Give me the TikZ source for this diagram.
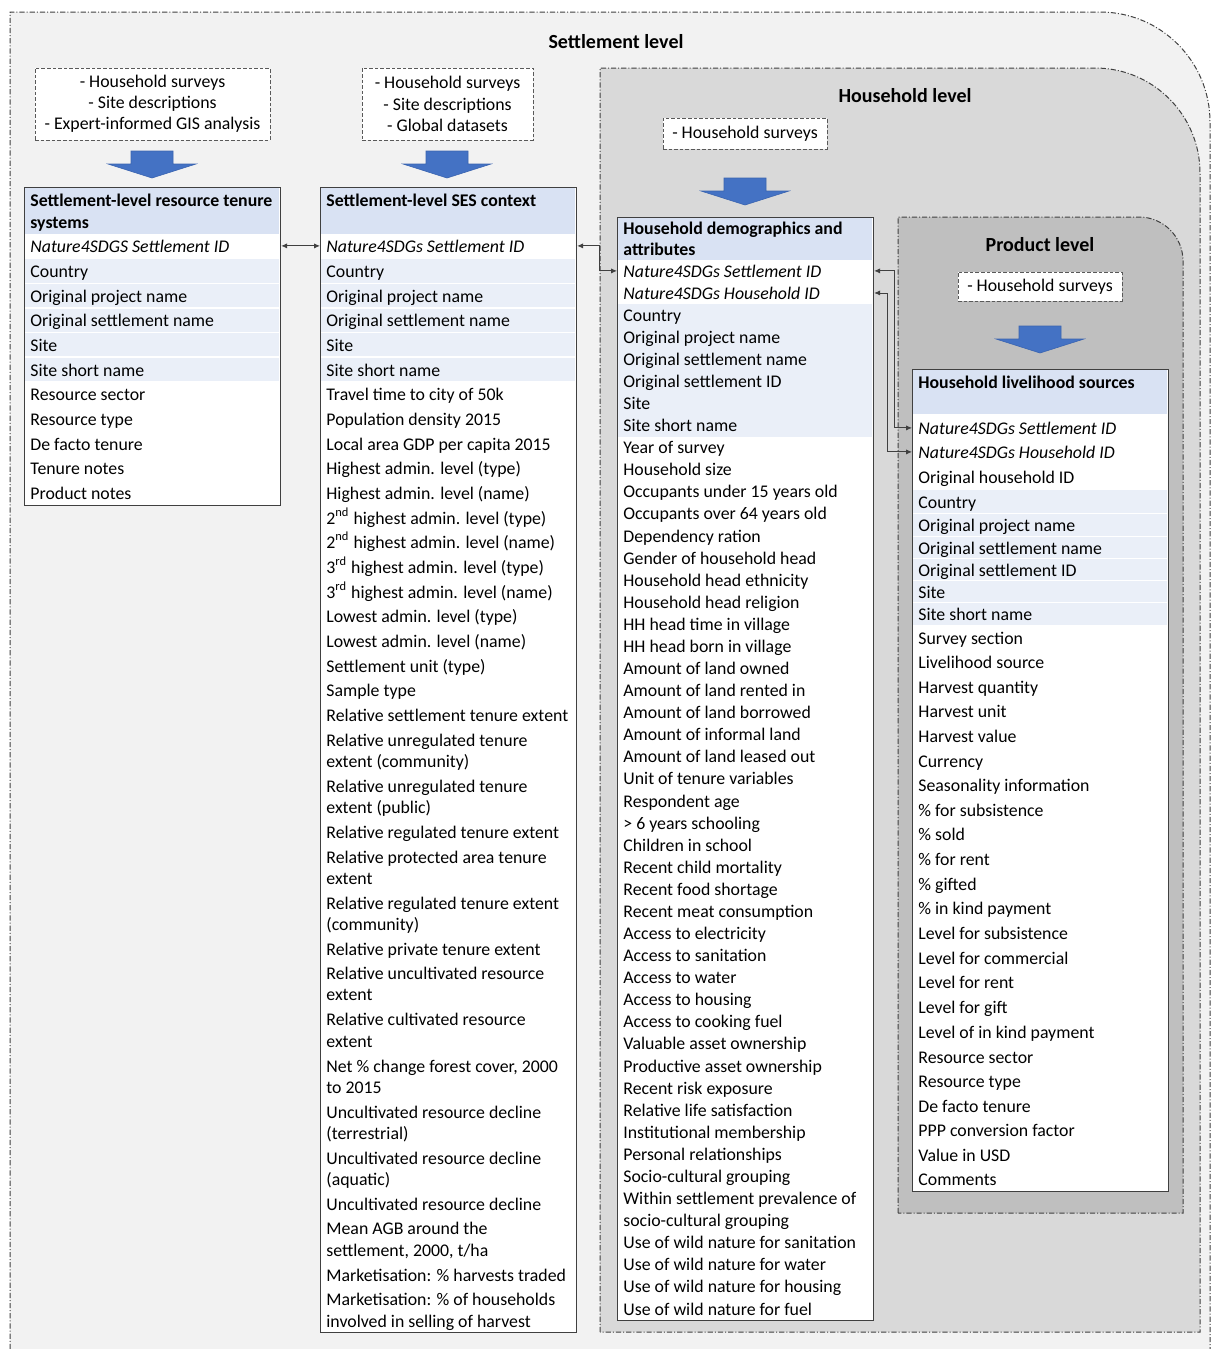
\documentclass[tikz,border=0pt]{standalone}
\usepackage{fontspec}
\setmainfont{Carlito}
\usetikzlibrary{arrows.meta}
\definecolor{lvlA}{HTML}{F2F2F2}
\definecolor{lvlB}{HTML}{D9D9D9}
\definecolor{lvlC}{HTML}{BFBFBF}
\definecolor{hdrblue}{HTML}{D9E2F3}
\definecolor{rowblue}{HTML}{EAEFF8}
\definecolor{arrblue}{HTML}{4472C4}
\definecolor{arrline}{HTML}{3A64B0}
\definecolor{edge}{HTML}{404040}
\newcommand\rowfont{\fontsize{8.9pt}{10.6pt}\selectfont}
\newcommand\dlarrow[2]{%
  \filldraw[barrow] ({#1-21},#2) -- ({#1+21},#2) -- ({#1+21},{#2+13}) -- ({#1+44},{#2+13})
    -- (#1,{#2+27}) -- ({#1-44},{#2+13}) -- ({#1-21},{#2+13}) -- cycle;}
\tikzset{
  lvlline/.style={draw=edge, line width=0.5pt, dash pattern=on 2.6pt off 1pt on 0.5pt off 1pt},
  srcbox/.style={draw=black!65, fill=white, line width=0.5pt, dash pattern=on 1.8pt off 1pt,
    align=center, inner sep=0pt, font=\rowfont},
  tbox/.style={draw=edge, fill=white, line width=0.6pt, anchor=north west, inner sep=0pt, minimum width=128pt},
  row/.style={anchor=base west, inner sep=0pt, font=\rowfont},
  hrow/.style={anchor=base west, inner sep=0pt, font=\rowfont\bfseries},
  ttl/.style={inner sep=0pt, font=\fontsize{10pt}{12pt}\selectfont\bfseries},
  barrow/.style={fill=arrblue, draw=arrline, line width=0.3pt},
  conn/.style={{Latex[length=3pt,width=2.6pt]}-{Latex[length=3pt,width=2.6pt]}, line width=0.4pt, draw=black!75},
}
\begin{document}
\begin{tikzpicture}[x=0.5pt,y=-0.5pt]
\fill[white] (0,0) rectangle (1211,1349);
\useasboundingbox (0,0) rectangle (1211,1349);
% level regions
\filldraw[lvlline, fill=lvlA] (10,1400) -- (10,12) -- (1100,12) arc[start angle=90, end angle=0, radius=55pt] -- (1210,1400);
\filldraw[lvlline, fill=lvlB] (600,1332) -- (600,68) -- (1095,68) arc[start angle=90, end angle=0, radius=52.5pt] -- (1200,1332) -- cycle;
\filldraw[lvlline, fill=lvlC] (898,1213) -- (898,217) -- (1139,217) arc[start angle=90, end angle=0, radius=22pt] -- (1183,1213) -- cycle;
\node[ttl] (tset) at (616,42) {Settlement level};
\node[ttl] (thh) at (905,96) {Household level};
\node[ttl] (tprod) at (1040,245) {Product level};
% sources
\node[srcbox, minimum width=117.5pt, minimum height=36pt] (s1) at (152.5,104) {- Household surveys\\- Site descriptions\\- Expert-informed GIS analysis};
\node[srcbox, minimum width=85.5pt, minimum height=36pt] (s2) at (447.5,104) {- Household surveys\\- Site descriptions\\- Global datasets};
\node[srcbox, minimum width=82pt, minimum height=15.5pt] (s3) at (745,133.5) {- Household surveys};
\node[srcbox, minimum width=82pt, minimum height=14.5pt] (s4) at (1040,286.5) {- Household surveys};
\dlarrow{152}{151}
\dlarrow{447}{151}
\dlarrow{745}{178}
\dlarrow{1040}{326}
% ---------- table 1
\node[tbox, minimum height=159pt] (T1) at (24,187) {};
\fill[hdrblue] (25,188) rectangle (279,234);
\foreach \a/\b in {259/282.5,284/307,308.5/331.5,333/356,357.5/381}
  \fill[rowblue] (25,\a) rectangle (279,\b);
\node[hrow] (h1a) at (30,206) {Settlement-level resource tenure};
\node[hrow] (h1b) at (30,228) {systems};
\foreach \y/\t [count=\i] in {246/\textit{Nature4SDGS Settlement ID},271/Country,296/Original project name,
  320/Original settlement name,345/Site,370/Site short name,394/Resource sector,419/Resource type,
  444/De facto tenure,468/Tenure notes,493/Product notes}
  \node[row] (a\i) at (30,{\y+6}) {\t};
% ---------- table 2
\node[tbox, minimum height=572.5pt] (T2) at (320,187) {};
\fill[hdrblue] (321,188) rectangle (575,234);
\foreach \a/\b in {259/282.5,284/307,308.5/331.5,333/356,357.5/381}
  \fill[rowblue] (321,\a) rectangle (575,\b);
\node[hrow] (h2) at (326,206) {Settlement-level SES context};
\foreach \y/\t [count=\i] in {246/\textit{Nature4SDGs Settlement ID},271/Country,296/Original project name,
  320/Original settlement name,345/Site,370/Site short name,394/Travel time to city of 50k,
  419/Population density 2015,444/Local area GDP per capita 2015,468/Highest admin. level (type),
  493/Highest admin. level (name),518/2\textsuperscript{nd} highest admin. level (type),
  542/2\textsuperscript{nd} highest admin. level (name),567/3\textsuperscript{rd} highest admin. level (type),
  592/3\textsuperscript{rd} highest admin. level (name),616/Lowest admin. level (type),
  641/Lowest admin. level (name),666/Settlement unit (type),690/Sample type,
  715/Relative settlement tenure extent,740/Relative unregulated tenure,761/extent (community),
  786/Relative unregulated tenure,807/extent (public),832/Relative regulated tenure extent,
  857/Relative protected area tenure,878/extent,903/Relative regulated tenure extent,924/(community),
  949/Relative private tenure extent,973/Relative uncultivated resource,994/extent,
  1019/Relative cultivated resource,1041/extent,1066/{Net \% change forest cover, 2000},1087/to 2015,
  1112/Uncultivated resource decline,1133/(terrestrial),1158/Uncultivated resource decline,1179/(aquatic),
  1204/Uncultivated resource decline,1228/Mean AGB around the,1250/{settlement, 2000, t/ha},
  1275/Marketisation: \% harvests traded,1299/Marketisation: \% of households,1321/involved in selling of harvest}
  \node[row] (b\i) at (326,{\y+6}) {\t};
% ---------- table 3
\node[tbox, minimum height=551.5pt] (T3) at (617,217) {};
\fill[hdrblue] (618,218) rectangle (872,260);
\fill[rowblue] (618,304) rectangle (872,437);
\node[hrow] (h3a) at (623,234) {Household demographics and};
\node[hrow] (h3b) at (623,255) {attributes};
\foreach \t [count=\i] in {\textit{Nature4SDGs Settlement ID},\textit{Nature4SDGs Household ID},Country,
  Original project name,Original settlement name,Original settlement ID,Site,Site short name,Year of survey,
  Household size,Occupants under 15 years old,Occupants over 64 years old,Dependency ration,
  Gender of household head,Household head ethnicity,Household head religion,HH head time in village,
  HH head born in village,Amount of land owned,Amount of land rented in,Amount of land borrowed,
  Amount of informal land,Amount of land leased out,Unit of tenure variables,Respondent age,
  > 6 years schooling,Children in school,Recent child mortality,Recent food shortage,Recent meat consumption,
  Access to electricity,Access to sanitation,Access to water,Access to housing,Access to cooking fuel,
  Valuable asset ownership,Productive asset ownership,Recent risk exposure,Relative life satisfaction,
  Institutional membership,Personal relationships,Socio-cultural grouping,Within settlement prevalence of,
  socio-cultural grouping,Use of wild nature for sanitation,Use of wild nature for water,
  Use of wild nature for housing,Use of wild nature for fuel}
  \node[row] (c\i) at (623,{271+(\i-1)*22.085+6}) {\t};
% ---------- table 4
\node[tbox, minimum height=411pt] (T4) at (912,369) {};
\fill[hdrblue] (913,370) rectangle (1167,414);
\foreach \a/\b in {490/513,514/536,537/558,559/580,581/602,603/625}
  \fill[rowblue] (913,\a) rectangle (1167,\b);
\node[hrow] (h4) at (918,388) {Household livelihood sources};
\foreach \y/\t [count=\i] in {428/\textit{Nature4SDGs Settlement ID},452/\textit{Nature4SDGs Household ID},
  477/Original household ID,502/Country,525/Original project name,548/Original settlement name,
  570/Original settlement ID,592/Site,614/Site short name,638/Survey section,662/Livelihood source,
  687/Harvest quantity,711/Harvest unit,736/Harvest value,761/Currency,785/Seasonality information,
  810/\% for subsistence,834/\% sold,859/\% for rent,884/\% gifted,908/\% in kind payment,
  933/Level for subsistence,958/Level for commercial,982/Level for rent,1007/Level for gift,
  1032/Level of in kind payment,1057/Resource sector,1081/Resource type,1106/De facto tenure,
  1130/PPP conversion factor,1155/Value in USD,1179/Comments}
  \node[row] (d\i) at (918,{\y+6}) {\t};
% ---------- connectors
\draw[conn] (T1.east |- a1.west) -- (T2.west |- b1.west);
\draw[conn] (T2.east |- b1.west) -- ++(22,0) |- (T3.west |- c1.west);
\draw[conn] (T3.east |- c1.west) -- ++(20,0) |- (T4.west |- d1.west);
\draw[conn] (T3.east |- c2.west) -- ++(13,0) |- (T4.west |- d2.west);
\end{tikzpicture}
\end{document}
